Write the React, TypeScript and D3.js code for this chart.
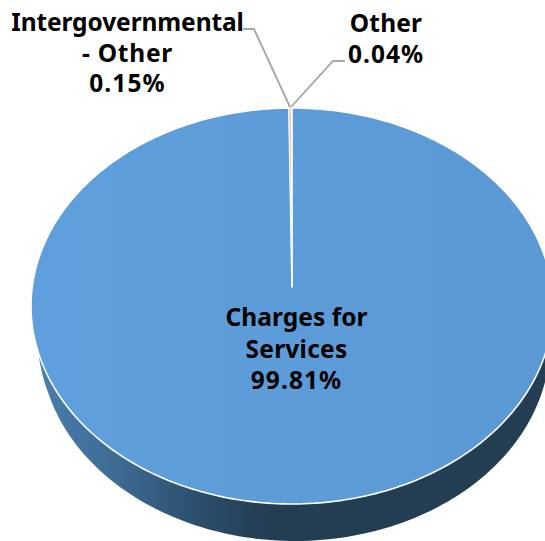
import React from "react";
import * as d3 from "d3";

const categories = ["Charges for Services", "Intergovernmental - Other", "Other"];
const values = [99.81, 0.15, 0.04];
const sliceColors = ["url(#topFill)", "#f3c9a8", "#e8e8e8"];
const labelLines = [
  ["Charges for", "Services", "99.81%"],
  ["Intergovernmental", "- Other", "0.15%"],
  ["Other", "0.04%"],
];

const W = 545, H = 541;
const cx = 292, cy = 306, rx = 261, ry = 198, apexY = 287;
const sideCx = 295, sideCy = 343, sideRx = 255, sideRy = 198;

const pie = d3.pie<number>().sort(null).startAngle(0).endAngle(2 * Math.PI);
const arcs = pie(values);
const xScale = d3.scaleLinear().domain([-1, 1]).range([cx - rx, cx + rx]);
const yScale = d3.scaleLinear().domain([-1, 1]).range([cy - ry, cy + ry]);
const px = (a: number) => xScale(Math.sin(a));
const py = (a: number) => yScale(-Math.cos(a));

function wedge(a0: number, a1: number) {
  const p = d3.path();
  p.moveTo(cx, apexY);
  const n = Math.max(2, Math.ceil((a1 - a0) / 0.02));
  d3.range(n + 1).forEach((i) => {
    const a = a0 + ((a1 - a0) * i) / n;
    p.lineTo(px(a), py(a));
  });
  p.closePath();
  return p.toString();
}

function sidePath() {
  const p = d3.path();
  const n = 120;
  const a0 = Math.PI * 0.45;
  const a1 = Math.PI * 1.417;
  p.moveTo(575, 349);
  d3.range(n + 1).forEach((i) => {
    const a = a0 + ((a1 - a0) * i) / n;
    p.lineTo(sideCx + sideRx * Math.sin(a), sideCy - sideRy * Math.cos(a));
  });
  p.quadraticCurveTo(41, 375, 38, 350);
  p.lineTo(100, 340);
  p.closePath();
  return p.toString();
}

const labelStyle: React.CSSProperties = {
  fontFamily: "'Noto Sans', sans-serif",
  fontWeight: 700,
  fontSize: 24.5,
  fill: "#000",
  textAnchor: "middle",
};
const labelPos = [
  { x: 296.5, y: 326, dy: 31.5, ls: [0.05, 0.25, 1.1] },
  { x: 127.5, y: 31, dy: 30.5, ls: [-0.1, 0.75, 1.1] },
  { x: 386, y: 32, dy: 31, ls: [0.2, 1.0] },
];
const leaders = [
  [[290, 107], [254, 29], [243, 29]],
  [[291, 107], [333, 61], [345, 61]],
];
const line = d3.line();

export default function App() {
  return (
    <svg width={W} height={H} style={{ position: "absolute", left: 0, top: 0 }}>
      <defs>
        <linearGradient id="sideFill" gradientUnits="userSpaceOnUse" x1={36} x2={270} y1={0} y2={0}>
          <stop offset="0" stopColor="#4a7fae" />
          <stop offset="0.35" stopColor="#3d6b93" />
          <stop offset="0.7" stopColor="#2b4d6b" />
          <stop offset="1" stopColor="#233d53" />
        </linearGradient>
        <linearGradient id="topFill" gradientUnits="userSpaceOnUse" x1={31} x2={553} y1={300} y2={300}>
          <stop offset="0" stopColor="#5f9fdd" />
          <stop offset="1" stopColor="#5a99d3" />
        </linearGradient>
      </defs>
      <path d={sidePath()} fill="url(#sideFill)" />
      {arcs.map((a, i) => (
        <path
          key={categories[i]}
          d={wedge(a.startAngle, a.endAngle)}
          fill={sliceColors[i]}
          stroke="#fff"
          strokeWidth={i === 0 ? 1.6 : 0.5}
          strokeLinejoin="round"
        />
      ))}
      {leaders.map((l, i) => (
        <path key={i} d={line(l as [number, number][]) ?? ""} fill="none" stroke="#a6a6a6" strokeWidth={1.8} />
      ))}
      {labelLines.map((lines, i) => (
        <text key={i} style={labelStyle}>
          {lines.map((t, j) => (
            <tspan key={j} x={labelPos[i].x} y={labelPos[i].y + j * labelPos[i].dy} letterSpacing={labelPos[i].ls[j]}>{t}</tspan>
          ))}
        </text>
      ))}
    </svg>
  );
}
